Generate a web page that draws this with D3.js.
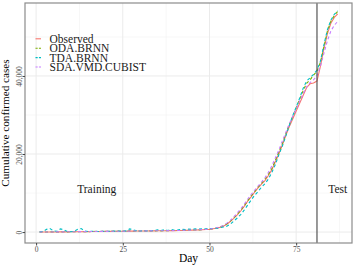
<!DOCTYPE html>
<html>
<head>
<meta charset="utf-8">
<script src="https://cdn.jsdelivr.net/npm/d3@7"></script>
<style>
  body { margin: 0; background: #fff; }
  svg { display: block; }
</style>
</head>
<body>
<svg id="chart" width="357" height="268"></svg>
<script>
// days 1..87
const days = d3.range(1, 88);

const observed = [0,5,10,15,20,30,40,50,60,70, 80,90,100,110,120,130,140,150,160,170,
  180,190,200,210,220,230,240,250,260,270, 280,290,300,310,320,330,340,350,360,380,
  400,420,440,470,500,530,570,610,650,700, 850,1000,1200,1500,2000,2700,3500,4400,5400,6600,
  7900,9000,10200,11300,12300,13200,14500,16000,18000,20000, 22300,24700,27000,29000,31000,33000,35000,37000,38000,38200,
  38700,42500,47000,50800,53500,55000,55900];

const odaBrnn = [0,20,0,40,60,30,20,80,40,90, 120,60,150,110,90,160,170,120,200,180,
  160,230,190,240,210,280,300,220,290,250, 320,270,340,300,360,310,380,330,400,420,
  390,460,430,520,480,580,560,640,690,760, 820,1050,1250,1650,2100,2800,3700,4500,5600,6700,
  8000,9300,10300,11500,12500,13600,14800,16300,18400,20500, 22600,25200,27500,29600,31800,34000,36200,38100,39000,40200,
  41200,43500,47500,51500,54000,55500,56600];

const tdaBrnn = [0,150,700,900,300,200,800,600,150,100, 200,700,900,300,150,200,250,160,190,220,
  200,250,230,260,240,300,800,600,300,280, 330,300,380,350,560,400,600,420,640,480,
  560,700,620,760,700,820,760,880,860,900, 900,950,1100,1300,1500,2000,2800,3600,4500,5600,
  6900,8200,9400,10400,11500,12400,13600,15300,17300,19800, 22000,24600,27300,29800,32000,34300,36800,38700,39500,40400,
  41500,43800,48000,51800,54300,55800,56700];

const sdaVmdCubist = [0,10,20,30,40,50,60,60,80,90, 90,110,110,120,140,140,150,170,170,180,
  190,200,200,220,230,240,240,260,270,280, 290,300,300,320,330,340,350,360,370,390,
  410,430,450,480,510,550,590,630,680,730, 900,1100,1350,1700,2300,3000,3900,4900,5900,7100,
  8400,9600,10700,11800,12800,13900,15300,17000,19000,21000, 23300,25500,27700,29700,31500,33500,35500,37200,38300,39000,
  40000,42500,45800,49000,51500,53000,54000];

const seriesNames = ["Observed", "ODA.BRNN", "TDA.BRNN", "SDA.VMD.CUBIST"];
const seriesColors = ["#F8766D", "#7CAE00", "#00BFC4", "#C77CFF"];
const seriesDash = [null, "3,2.5", "3,2.5", "3,2.5"];

const xTicks = [0, 25, 50, 75];
const xMinor = [12.5, 37.5, 62.5, 87.5];
const yTicks = [0, 20000, 40000];
const yMinor = [10000, 30000, 50000];

const splitDay = 81;
const annLabels = ["Training", "Test"];
const annX = [17.5, 87];
const annY = [11000, 11000];

const panel = { left: 25, right: 352, top: 3, bottom: 243 };
const serif = "'Liberation Serif', 'Times New Roman', serif";

const svg = d3.select("#chart");

const xScale = d3.scaleLinear().domain([-3.2, 91.1]).range([panel.left, panel.right]);
const yScale = d3.scaleLinear().domain([-2800, 58700]).range([panel.bottom, panel.top]);

// grid
const grid = svg.append("g");
grid.selectAll(".xminor").data(xMinor).enter().append("line")
    .attr("x1", d => xScale(d)).attr("x2", d => xScale(d))
    .attr("y1", panel.top).attr("y2", panel.bottom)
    .attr("stroke", "#f2f2f2").attr("stroke-width", 0.6);
grid.selectAll(".yminor").data(yMinor).enter().append("line")
    .attr("y1", d => yScale(d)).attr("y2", d => yScale(d))
    .attr("x1", panel.left).attr("x2", panel.right)
    .attr("stroke", "#f2f2f2").attr("stroke-width", 0.6);
grid.selectAll(".xmajor").data(xTicks).enter().append("line")
    .attr("x1", d => xScale(d)).attr("x2", d => xScale(d))
    .attr("y1", panel.top).attr("y2", panel.bottom)
    .attr("stroke", "#ebebeb").attr("stroke-width", 1);
grid.selectAll(".ymajor").data(yTicks).enter().append("line")
    .attr("y1", d => yScale(d)).attr("y2", d => yScale(d))
    .attr("x1", panel.left).attr("x2", panel.right)
    .attr("stroke", "#ebebeb").attr("stroke-width", 1);

// lines
const allSeries = [observed, odaBrnn, tdaBrnn, sdaVmdCubist];
const line = d3.line()
    .x((d, i) => xScale(days[i]))
    .y(d => yScale(d));

allSeries.forEach((s, k) => {
  svg.append("path")
     .datum(s)
     .attr("d", line)
     .attr("fill", "none")
     .attr("stroke", seriesColors[k])
     .attr("stroke-width", 1.1)
     .attr("stroke-dasharray", seriesDash[k]);
});

// split line
svg.append("line")
   .attr("x1", xScale(splitDay)).attr("x2", xScale(splitDay))
   .attr("y1", panel.top).attr("y2", panel.bottom)
   .attr("stroke", "#555").attr("stroke-width", 1.2);

// annotations
svg.selectAll(".ann").data(annLabels).enter().append("text")
   .attr("x", (d, i) => xScale(annX[i]))
   .attr("y", (d, i) => yScale(annY[i]))
   .attr("dy", "0.35em")
   .attr("text-anchor", "middle")
   .style("font-family", serif).style("font-size", "11.5px")
   .attr("fill", "#1a1a1a")
   .text(d => d);

// panel border
svg.append("rect")
   .attr("x", panel.left).attr("y", panel.top)
   .attr("width", panel.right - panel.left).attr("height", panel.bottom - panel.top)
   .attr("fill", "none").attr("stroke", "#8c8c8c").attr("stroke-width", 1.2);

// X axis
const xAxis = svg.append("g")
   .attr("transform", "translate(0," + panel.bottom + ")")
   .call(d3.axisBottom(xScale).tickValues(xTicks).tickSize(2.5).tickPadding(1.5));
xAxis.select(".domain").remove();
xAxis.selectAll("line").attr("stroke", "#444");
xAxis.selectAll("text").attr("fill", "#4d4d4d")
   .style("font-family", serif).style("font-size", "7.5px");

// Y axis, labels rotated
const yAxis = svg.append("g")
   .attr("transform", "translate(" + panel.left + ",0)")
   .call(d3.axisLeft(yScale).tickValues(yTicks).tickSize(2.5).tickFormat(d3.format(",")));
yAxis.select(".domain").remove();
yAxis.selectAll("line").attr("stroke", "#444");
yAxis.selectAll("text")
   .attr("x", null).attr("dy", null)
   .attr("text-anchor", "middle")
   .attr("transform", "translate(-2.8,0) rotate(-90)")
   .attr("fill", "#4d4d4d")
   .style("font-family", serif).style("font-size", "7.5px");

// axis titles
svg.append("text")
   .attr("x", (panel.left + panel.right) / 2).attr("y", 262)
   .attr("text-anchor", "middle")
   .style("font-family", serif).style("font-size", "11.5px")
   .text("Day");

svg.append("text")
   .attr("transform", "translate(9," + ((panel.top + panel.bottom) / 2) + ") rotate(-90)")
   .attr("text-anchor", "middle")
   .style("font-family", serif).style("font-size", "11.2px")
   .text("Cumulative confirmed cases");

// legend
const legendY = [38.8, 48.2, 57.6, 67];
const legend = svg.append("g");
seriesNames.forEach((name, k) => {
  legend.append("line")
        .attr("x1", 35.5).attr("x2", 41)
        .attr("y1", legendY[k]).attr("y2", legendY[k])
        .attr("stroke", seriesColors[k]).attr("stroke-width", 1.1)
        .attr("stroke-dasharray", seriesDash[k] ? "2.2,1.2" : null);
  legend.append("text")
        .attr("x", 49.5).attr("y", legendY[k]).attr("dy", "0.35em")
        .style("font-family", serif).style("font-size", "11.5px")
        .attr("fill", "#1a1a1a")
        .text(name);
});
</script>
</body>
</html>
